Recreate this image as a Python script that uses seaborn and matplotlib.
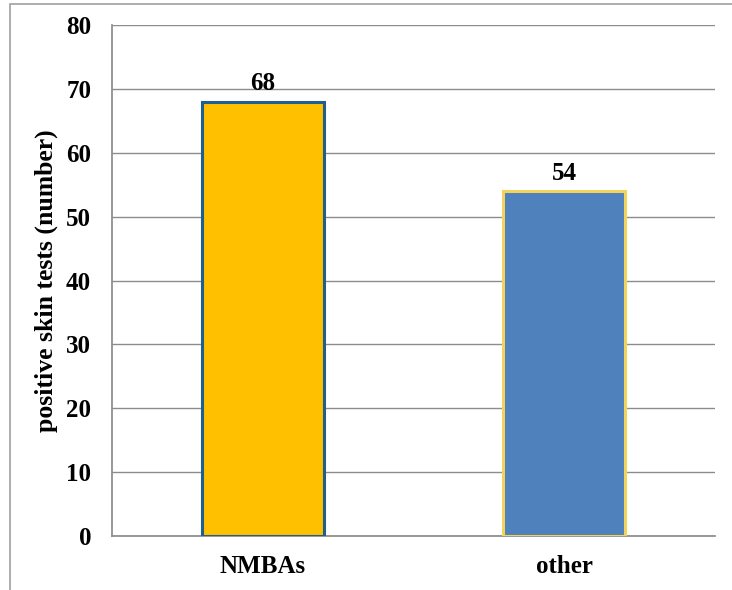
import matplotlib
matplotlib.use("Agg")
import matplotlib.pyplot as plt
import seaborn as sns
import pandas as pd
from matplotlib.patches import Rectangle

categories = ["NMBAs", "other"]
values = [68, 54]
fill_colors = ["#FFC000", "#4F81BD"]
edge_colors = ["#1F5F8F", "#F2D45C"]
yticks = [0, 10, 20, 30, 40, 50, 60, 70, 80]

sns.set_theme(style="white")
plt.rcParams['font.family'] = ['Liberation Serif', 'DejaVu Serif']
plt.rcParams['text.color'] = 'black'
plt.rcParams['xtick.color'] = 'black'
plt.rcParams['ytick.color'] = 'black'
plt.rcParams['axes.labelcolor'] = 'black'

df = pd.DataFrame({"category": categories, "value": values})

fig = plt.figure(figsize=(7.32, 5.90), dpi=100)
ax = fig.add_axes([112/732, 54/590, 603/732, 511/590])

sns.barplot(data=df, x="category", y="value", hue="category",
            palette=fill_colors, saturation=1, width=0.405, legend=False, ax=ax, zorder=3)

for patch, ec in zip(ax.patches, edge_colors):
    patch.set_edgecolor(ec)
    patch.set_linewidth(2.2)

ax.set_ylim(0, 80)
ax.set_yticks(yticks)
ax.yaxis.grid(True, color="#8c8c8c", linewidth=1.0, zorder=0)
ax.set_axisbelow(True)
for s in ["top", "right"]:
    ax.spines[s].set_visible(False)
ax.spines["left"].set_color("#8c8c8c")
ax.spines["bottom"].set_color("#8c8c8c")
ax.tick_params(axis="y", length=0, labelsize=18, pad=15)
ax.tick_params(axis="x", length=0, labelsize=18, pad=14)
for lab in ax.get_yticklabels() + ax.get_xticklabels():
    lab.set_fontweight("bold")
ax.set_xlabel("")
ax.set_ylabel("positive skin tests (number)", fontsize=18.5, fontweight="bold", labelpad=6)

for i, v in enumerate(values):
    ax.text(i, v + 1.0, str(v), ha="center", va="bottom", fontsize=18, fontweight="bold")

fig.patches.append(Rectangle((10/732, -0.05), 1.2, 1.05 - 4/590, transform=fig.transFigure,
                             fill=False, edgecolor="#a0a0a0", linewidth=1.2))

fig.savefig("out.png", dpi=100)
